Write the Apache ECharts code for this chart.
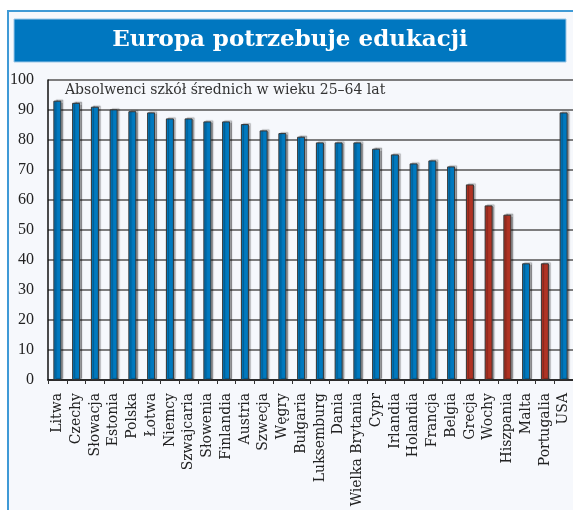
<!DOCTYPE html>
<html><head><meta charset="utf-8">
<script src="https://cdn.jsdelivr.net/npm/echarts@6/dist/echarts.min.js"></script>
<style>html,body{margin:0;padding:0;background:#fff}#c{width:573px;height:510px}</style>
</head><body><div id="c"></div>
<script>
const categories = ['Litwa','Czechy','Słowacja','Estonia','Polska','Łotwa','Niemcy','Szwajcaria','Słowenia','Finlandia','Austria','Szwecja','Węgry','Bułgaria','Luksemburg','Dania','Wielka Brytania','Cypr','Irlandia','Holandia','Francja','Belgia','Grecja','Wochy','Hiszpania','Malta','Portugalia','USA'];
const values = [93.1,92.4,91.1,90.2,89.6,89.2,87.2,87.2,86.2,86.2,85.3,83.2,82.3,81.1,79.2,79.2,79.2,77.1,75.2,72.2,73.2,71.2,65.2,58.2,55.1,38.9,38.9,89.2];
const highlighted = ['Grecja','Wochy','Hiszpania','Portugalia'];
const yTicks = [0,10,20,30,40,50,60,70,80,90,100];
const titleText = 'Europa potrzebuje edukacji';
const subtitleText = 'Absolwenci szkół średnich w wieku 25–64 lat';

const serif = '"DejaVu Serif", "Liberation Serif", serif';
const serif2 = '"Liberation Serif", "DejaVu Serif", serif';
const chart = echarts.init(document.getElementById('c'));
chart.setOption({
  animation: false,
  backgroundColor: '#fff',
  graphic: [
    {type:'rect', z:-10, shape:{x:8,y:11,width:600,height:520}, style:{fill:'#f6f8fc', stroke:'#3f9ad6', lineWidth:2}},
    {type:'rect', z:-5, shape:{x:14,y:19,width:552,height:43}, style:{fill:'#0077c0', stroke:'#9cc8e8', lineWidth:1}},
    {type:'text', z:5, x:290, y:40, style:{text:titleText, fill:'#fff', font:'bold 23px ' + serif, align:'center', verticalAlign:'middle'}},
    {type:'text', z:5, x:65, y:90, style:{text:subtitleText, fill:'#333', font:'14px ' + serif, align:'left', verticalAlign:'middle'}}
  ],
  grid: {left:48, right:-4, top:80, bottom:130, containLabel:false},
  xAxis: {
    type:'category', data: categories,
    axisLine:{lineStyle:{color:'#111', width:1.5}},
    axisTick:{show:true, length:4, lineStyle:{color:'#333'}},
    axisLabel:{rotate:90, interval:0, color:'#222', fontFamily:serif, fontSize:14, margin:13}
  },
  yAxis: {
    type:'value', min:yTicks[0], max:yTicks[yTicks.length-1], interval:10,
    axisLine:{show:true, lineStyle:{color:'#111', width:1.5}},
    axisTick:{show:false},
    axisLabel:{color:'#222', fontFamily:serif2, fontSize:16, margin:14},
    splitLine:{lineStyle:{color:'#555', width:1.5}}
  },
  series: [{
    type:'bar', barWidth:8,
    data: values.map((v,i)=>({value:v, itemStyle:{color: highlighted.includes(categories[i]) ? '#b03324' : '#0079bf'}})),
    itemStyle:{borderColor:'#333', borderWidth:1, shadowColor:'rgba(0,0,0,0.3)', shadowOffsetX:2, shadowOffsetY:-1, shadowBlur:1}
  }]
});
</script></body></html>
